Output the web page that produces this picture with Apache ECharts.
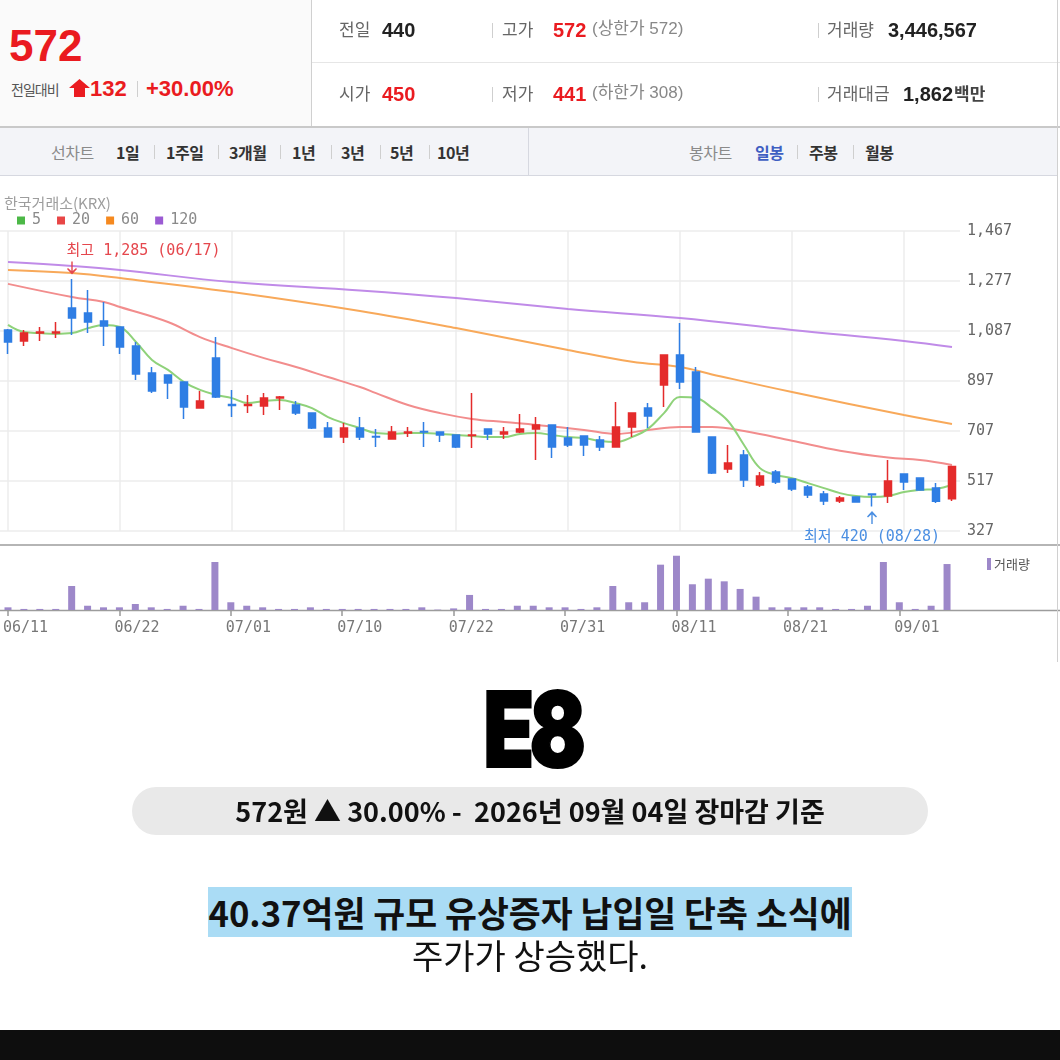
<!DOCTYPE html>
<html><head><meta charset="utf-8">
<script src="https://cdn.jsdelivr.net/npm/echarts@6/dist/echarts.min.js"></script>
<style>
html,body{margin:0;padding:0;background:#fff;}
#wrap{position:relative;width:1060px;height:1060px;overflow:hidden;font-family:"Liberation Sans","Noto Sans CJK KR",sans-serif;}
#chart{position:absolute;left:0;top:0;width:1060px;height:1060px;z-index:1;}
.ov{position:absolute;z-index:2;}
.t{position:absolute;white-space:nowrap;z-index:3;line-height:20px;}
.lab{font-size:17px;color:#666;font-family:"Noto Sans CJK KR",sans-serif;}
.num{font-size:20px;font-weight:bold;color:#222;}
.red{color:#ea1b20;}
.gr{font-size:17px;color:#888;font-family:"Liberation Sans","Noto Sans CJK KR",sans-serif;}
.sep{position:absolute;width:1px;background:#cfcfcf;z-index:3;}
.tb{position:absolute;white-space:nowrap;z-index:3;line-height:20px;top:142px;font-size:16px;font-family:"Noto Sans CJK KR",sans-serif;color:#333;font-weight:bold;letter-spacing:-0.5px;}
.tbl{color:#8a8a8a;font-weight:normal;}
</style></head>
<body>
<div id="wrap">
  <div id="chart"></div>
  <!-- header -->
  <div class="ov" style="left:0;top:0;width:311px;height:126px;background:#fafafa;border-right:1px solid #d0d0d0;"></div>
  <div class="ov" style="left:312px;top:62px;width:748px;height:1px;background:#e6e6e6;"></div>
  <div class="ov" style="left:0;top:126px;width:1060px;height:2px;background:#c9c9c9;"></div>
  <div class="ov" style="left:1057px;top:0;width:1px;height:662px;background:#d0d0d0;"></div>

  <div class="t red" style="left:9px;top:24px;font-size:44px;line-height:44px;font-weight:bold;">572</div>
  <div class="t" style="left:11px;top:79px;font-size:14px;color:#555;letter-spacing:-1px;font-family:'Noto Sans CJK KR',sans-serif;">전일대비</div>
  <svg class="ov" style="left:69px;top:79px;" width="21" height="19" viewBox="0 0 21 19"><polygon points="10.5,0 21,9 16,9 16,18 5,18 5,9 0,9" fill="#ea1b20"/></svg>
  <div class="t red" style="left:90px;top:78px;font-size:22px;line-height:22px;font-weight:bold;">132</div>
  <div class="sep" style="left:137px;top:81px;height:16px;"></div>
  <div class="t red" style="left:146px;top:78px;font-size:22px;line-height:22px;font-weight:bold;">+30.00%</div>

  <div class="t lab" style="left:339px;top:19px;">전일</div>
  <div class="t num" style="left:382px;top:20px;">440</div>
  <div class="sep" style="left:492px;top:23px;height:15px;"></div>
  <div class="t lab" style="left:502px;top:19px;">고가</div>
  <div class="t num red" style="left:553px;top:20px;">572</div>
  <div class="t gr" style="left:592px;top:19px;">(상한가 572)</div>
  <div class="sep" style="left:818px;top:23px;height:15px;"></div>
  <div class="t lab" style="left:827px;top:19px;">거래량</div>
  <div class="t num" style="left:888px;top:20px;">3,446,567</div>

  <div class="t lab" style="left:339px;top:83px;">시가</div>
  <div class="t num red" style="left:382px;top:84px;">450</div>
  <div class="sep" style="left:492px;top:87px;height:15px;"></div>
  <div class="t lab" style="left:502px;top:83px;">저가</div>
  <div class="t num red" style="left:553px;top:84px;">441</div>
  <div class="t gr" style="left:592px;top:83px;">(하한가 308)</div>
  <div class="sep" style="left:818px;top:87px;height:15px;"></div>
  <div class="t lab" style="left:827px;top:83px;">거래대금</div>
  <div class="t num" style="left:903px;top:84px;">1,862</div>
  <div class="t" style="left:954px;top:83px;font-size:17px;font-weight:bold;color:#444;font-family:'Noto Sans CJK KR',sans-serif;">백만</div>

  <!-- toolbar -->
  <div class="ov" style="left:0;top:128px;width:1057px;height:47px;background:#f3f4f8;border-bottom:1px solid #d6d8e0;"></div>
  <div class="ov" style="left:528px;top:128px;width:1px;height:48px;background:#d6d8e0;"></div>
  <div class="tb tbl" style="left:51px;">선차트</div>
  <div class="tb" style="left:116px;">1일</div>
  <div class="sep" style="left:154px;top:145px;height:14px;"></div>
  <div class="tb" style="left:166px;">1주일</div>
  <div class="sep" style="left:218px;top:145px;height:14px;"></div>
  <div class="tb" style="left:229px;">3개월</div>
  <div class="sep" style="left:280px;top:145px;height:14px;"></div>
  <div class="tb" style="left:292px;">1년</div>
  <div class="sep" style="left:331px;top:145px;height:14px;"></div>
  <div class="tb" style="left:341px;">3년</div>
  <div class="sep" style="left:380px;top:145px;height:14px;"></div>
  <div class="tb" style="left:390px;">5년</div>
  <div class="sep" style="left:429px;top:145px;height:14px;"></div>
  <div class="tb" style="left:437px;">10년</div>
  <div class="tb tbl" style="left:689px;">봉차트</div>
  <div class="tb" style="left:755px;color:#3f5fc2;">일봉</div>
  <div class="sep" style="left:797px;top:145px;height:14px;"></div>
  <div class="tb" style="left:809px;">주봉</div>
  <div class="sep" style="left:853px;top:145px;height:14px;"></div>
  <div class="tb" style="left:865px;">월봉</div>

  <!-- lower captions -->
  <div class="t" style="left:0;width:1064px;top:677px;line-height:104px;text-align:center;">
    <span style="display:inline-block;transform:scaleX(0.8);font-size:104px;font-weight:900;font-family:Inter,Roboto,'Noto Sans CJK KR',sans-serif;color:#000;letter-spacing:-6px;-webkit-text-stroke:2px #000;">E8</span>
  </div>
  <div class="ov" style="left:132px;top:787px;width:796px;height:48px;border-radius:24px;background:#e9e9e9;"></div>
  <div class="t" style="left:132px;width:796px;top:787px;line-height:48px;text-align:center;font-size:27px;font-weight:bold;color:#111;font-family:'Noto Sans CJK KR',sans-serif;">572원 ▲ 30.00% -&nbsp; 2026년 09월 04일 장마감 기준</div>
  <div class="t" style="left:0;width:1060px;top:890px;line-height:45px;text-align:center;font-size:34.7px;font-weight:bold;color:#111;font-family:'Noto Sans CJK KR',sans-serif;"><span style="background:#aadcf5;">40.37억원 규모 유상증자 납입일 단축 소식에</span></div>
  <div class="t" style="left:0;width:1060px;top:934px;line-height:42px;text-align:center;font-size:34px;color:#111;font-family:'Noto Sans CJK KR',sans-serif;">주가가 상승했다.</div>
  <div class="ov" style="left:0;top:1030px;width:1060px;height:30px;background:#0e0e0e;"></div>
</div>
<script>
// ---- data ----
const dates = ['06/11','06/12','06/15','06/16','06/17','06/18','06/19','06/22','06/23','06/24','06/25','06/26','06/29','06/30',
 '07/01','07/02','07/03','07/06','07/07','07/08','07/09','07/10','07/13','07/14','07/15','07/16','07/20','07/21','07/22','07/23','07/24','07/27','07/28','07/29','07/30','07/31',
 '08/03','08/04','08/05','08/06','08/07','08/10','08/11','08/12','08/13','08/14','08/18','08/19','08/20','08/21','08/24','08/25','08/26','08/27','08/28','08/31',
 '09/01','09/02','09/03','09/04'];
// [open, close, low, high]
const ohlc = [
 [1091,1045,1000,1095],[1049,1079,1030,1091],[1079,1083,1049,1102],[1079,1083,1060,1121],[1174,1136,1072,1285],
 [1155,1121,1079,1243],[1125,1106,1030,1197],[1102,1026,1000,1102],[1030,924,901,1045],[927,859,851,950],
 [920,889,829,920],[893,798,753,893],[794,821,794,859],[984,836,832,1064],[808,804,760,863],
 [804,808,775,844],[802,832,768,851],[832,836,787,840],[806,775,768,821],[775,718,715,777],
 [718,684,684,741],[684,718,661,737],[718,684,673,760],[686,684,646,715],[677,703,677,726],
 [699,703,684,722],[705,703,646,741],[703,692,665,703],[692,646,642,692],[690,692,642,851],
 [715,696,673,715],[696,703,677,722],[703,715,699,772],[715,730,597,760],[730,646,604,730],
 [680,654,646,722],[688,654,612,688],[673,646,631,688],[646,722,646,817],[722,775,684,775],
 [794,764,718,813],[882,996,798,996],[996,893,867,1117],[931,703,703,950],[684,547,544,684],
 [563,585,547,654],[616,521,494,635],[502,536,494,551],[551,513,506,559],[525,487,479,525],
 [494,464,452,502],[468,441,426,479],[441,452,433,460],[456,437,437,456],[468,465,420,468],
 [460,517,433,597],[544,513,483,544],[528,483,483,528],[490,440,433,509],[450,572,441,572]
];
const volume = [200000,80000,80000,80000,1800000,320000,200000,200000,450000,200000,
 80000,320000,80000,3600000,580000,320000,200000,80000,80000,200000,
 80000,80000,80000,80000,80000,80000,200000,30000,120000,1130000,
 80000,80000,320000,320000,200000,200000,80000,200000,1800000,580000,
 580000,3400000,4070000,1930000,2350000,2150000,1580000,1000000,200000,200000,
 200000,200000,80000,80000,320000,3600000,580000,80000,320000,3446567];
const ma5 = [1110,1083,1079,1076,1079,1098,1110,1102,1045,977,939,893,863,844,832,813,821,825,813,794,
 760,737,718,699,696,699,699,696,692,688,684,684,696,699,692,684,680,669,665,684,
 715,775,836,832,795,745,654,566,540,528,509,490,471,460,456,460,475,483,487,502];
const ma20Dates = ['06/11','06/17','06/19','06/22','06/25','06/29','07/01','07/03','07/07','07/09','07/13','07/14','07/16','07/21',
 '07/23','07/27','07/29','08/03','08/05','08/07','08/11','08/13','08/18','08/21','08/26','08/31','09/02','09/04'];
const ma20Values = [1266,1216,1197,1178,1121,1064,1022,984,950,912,874,851,806,775,753,741,730,711,696,711,722,722,707,670,632,606,597,578];
const ma60Dates = ['06/11','06/17','06/22','07/01','07/13','07/22','07/31','08/06','08/11','08/13','08/21','09/01','09/04'];
const ma60Values = [1319,1307,1288,1235,1163,1098,1015,970,950,922,855,768,734];
const ma120Dates = ['06/11','06/17','06/22','07/01','07/13','07/22','07/31','08/11','08/21','09/01','09/04'];
const ma120Values = [1349,1334,1319,1273,1241,1212,1171,1136,1091,1049,1026];
const yTicks = [327,517,707,897,1087,1277,1467];
const volMax = 4500000;

// ---- chart ----
const mono = '"DejaVu Sans Mono","Noto Sans CJK KR",monospace';
const pair = (d, v) => d.map((x, i) => [x, v[i]]);
let hiIdx = 0, loIdx = 0;
ohlc.forEach((c, i) => { if (c[3] > ohlc[hiIdx][3]) hiIdx = i; if (c[2] < ohlc[loIdx][2]) loIdx = i; });
const hiVal = ohlc[hiIdx][3], loVal = ohlc[loIdx][2];
const fmt = v => v.toLocaleString('en-US');
const UP = '#e42b2b', DOWN = '#2f7ee4';
const HI_C = '#e5474d', LO_C = '#4b8fe2';
const ARROW_DOWN = 'path://M4.3,0 L5.7,0 L5.7,9.5 L9,6.5 L10,7.5 L5,13 L0,7.5 L1,6.5 L4.3,9.5 Z';
const ARROW_UP = 'path://M4.3,13 L5.7,13 L5.7,3.5 L9,6.5 L10,5.5 L5,0 L0,5.5 L1,6.5 L4.3,3.5 Z';

const chart = echarts.init(document.getElementById('chart'));
chart.setOption({
  animation: false,
  title: {text: '한국거래소(KRX)', left: -1, top: 191,
    textStyle: {fontSize: 15, color: '#9d9d9d', fontWeight: 'normal', fontFamily: '"Noto Sans CJK KR",sans-serif'}},
  legend: {left: 12, top: 208, icon: 'rect', itemWidth: 8, itemHeight: 8, itemGap: 16, selectedMode: false,
    textStyle: {fontFamily: mono, fontSize: 15, color: '#8a8a8a', padding: [0, 0, 0, 2]},
    data: [{name: '5', itemStyle: {color: '#4cb847'}}, {name: '20', itemStyle: {color: '#e84646'}},
           {name: '60', itemStyle: {color: '#f5891f'}}, {name: '120', itemStyle: {color: '#9b5bd3'}}]},
  grid: [{left: 0, right: 100, top: 231, height: 300}, {left: 0, right: 105, top: 550, height: 60}],
  xAxis: [
    {type: 'category', gridIndex: 0, data: dates, boundaryGap: true,
     axisLine: {show: false}, axisTick: {show: false}, axisLabel: {show: false},
     splitLine: {show: true, interval: 6, alignWithLabel: true, lineStyle: {color: '#ececec', width: 1.5}}},
    {type: 'category', gridIndex: 1, data: dates, boundaryGap: true,
     axisLine: {show: false},
     axisTick: {show: true, interval: 6, alignWithLabel: true, length: 6, lineStyle: {color: '#999', width: 1.5}},
     axisLabel: {interval: 6, margin: 11, fontFamily: mono, fontSize: 15, color: '#777', align: 'left', padding: [0, 0, 0, -5]},
     splitLine: {show: false}}
  ],
  yAxis: [
    {type: 'value', gridIndex: 0, position: 'right', min: yTicks[0], max: yTicks[yTicks.length - 1],
     interval: yTicks[1] - yTicks[0], axisLine: {show: false}, axisTick: {show: false},
     splitLine: {lineStyle: {color: '#ececec', width: 1.5}},
     axisLabel: {margin: 7, fontFamily: mono, fontSize: 15, color: '#666', formatter: v => fmt(v)}},
    {type: 'value', gridIndex: 1, min: 0, max: volMax, show: false, splitLine: {show: false}}
  ],
  series: [
    {name: '120', type: 'line', data: pair(ma120Dates, ma120Values), smooth: 0.4, symbol: 'none', z: 2,
     color: '#9b5bd3', lineStyle: {width: 2, color: '#c08be8'}},
    {name: '60', type: 'line', data: pair(ma60Dates, ma60Values), smooth: 0.4, symbol: 'none', z: 2,
     color: '#f5891f', lineStyle: {width: 2, color: '#f8a95a'}},
    {name: '20', type: 'line', data: pair(ma20Dates, ma20Values), smooth: 0.4, symbol: 'none', z: 2,
     color: '#e84646', lineStyle: {width: 2, color: '#f28d8d'}},
    {name: '5', type: 'line', data: ma5, smooth: 0.4, symbol: 'none', z: 2,
     color: '#4cb847', lineStyle: {width: 2, color: '#8fd27a'}},
    {name: 'price', type: 'candlestick', data: ohlc, barWidth: 7, z: 3,
     itemStyle: {color: UP, color0: DOWN, borderColor: UP, borderColor0: DOWN, borderWidth: 1.5},
     markPoint: {animation: false, silent: true,
       data: [
        {coord: [dates[hiIdx], hiVal], symbol: ARROW_DOWN, symbolSize: [10, 13], symbolOffset: [0, -11],
         itemStyle: {color: HI_C}, label: {show: false}},
        {coord: [dates[hiIdx], hiVal], symbol: 'circle', symbolSize: 1, itemStyle: {color: 'rgba(0,0,0,0)'},
         label: {show: true, position: [-5, -36], align: 'left', verticalAlign: 'top',
           formatter: '최고 ' + fmt(hiVal) + ' (' + dates[hiIdx] + ')',
           fontFamily: mono, fontSize: 15, lineHeight: 18, color: HI_C}},
        {coord: [dates[loIdx], loVal], symbol: ARROW_UP, symbolSize: [10, 13], symbolOffset: [0, 11],
         itemStyle: {color: LO_C}, label: {show: false}},
        {coord: [dates[loIdx], loVal], symbol: 'circle', symbolSize: 1, itemStyle: {color: 'rgba(0,0,0,0)'},
         label: {show: true, position: 'bottom', distance: 21, align: 'center',
           formatter: '최저 ' + fmt(loVal) + ' (' + dates[loIdx] + ')',
           fontFamily: mono, fontSize: 15, lineHeight: 18, color: LO_C}}
       ]}},
    {name: '거래량', type: 'bar', xAxisIndex: 1, yAxisIndex: 1, data: volume, barWidth: 7,
     itemStyle: {color: '#9d88c9'}}
  ],
  graphic: [
    {type: 'line', shape: {x1: 0, y1: 545, x2: 1060, y2: 545}, style: {stroke: '#b5b5b5', lineWidth: 2}},
    {type: 'line', shape: {x1: 0, y1: 610.5, x2: 1060, y2: 610.5}, style: {stroke: '#9c9c9c', lineWidth: 1.5}},
    {type: 'rect', shape: {x: 987, y: 558, width: 4, height: 12}, style: {fill: '#9d88c9'}},
    {type: 'text', x: 994, y: 564, style: {text: '거래량', fontSize: 13, fontFamily: '"Noto Sans CJK KR",sans-serif', fill: '#555', verticalAlign: 'middle'}}
  ]
});
</script>
</body></html>
